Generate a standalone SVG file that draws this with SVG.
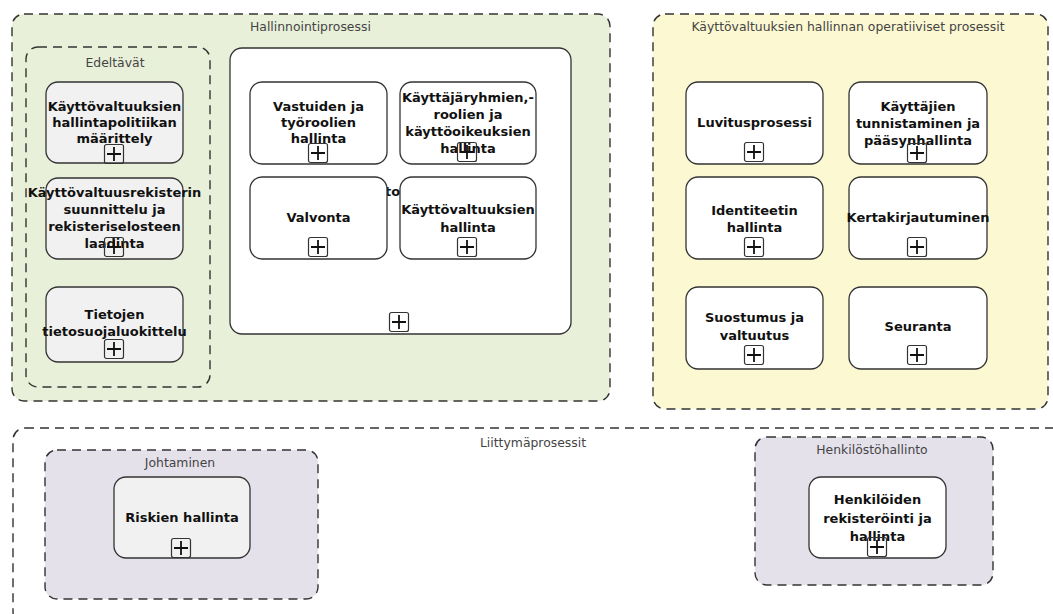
<svg xmlns="http://www.w3.org/2000/svg" width="1053" height="614" viewBox="0 0 1053 614">
  <style>
    .grp { stroke: #333; stroke-width: 1.4; stroke-dasharray: 9 6; }
    .green { fill: #e9f0d9; }
    .yellow { fill: #fcf8d2; }
    .purple { fill: #e4e1eb; }
    .plain { fill: #ffffff; }
    .node { stroke: #333; stroke-width: 1.3; fill: #ffffff; }
    .node.grey { fill: #f1f1f1; }
    .glabel { font-family: "DejaVu Sans", Verdana, sans-serif; font-size: 12.4px; fill: #444; }
    .nlabel { font-family: "DejaVu Sans", Verdana, sans-serif; font-size: 13px; font-weight: bold; fill: #111; text-anchor: middle; }
    .clabel { font-family: "DejaVu Sans", Verdana, sans-serif; font-size: 13px; font-weight: bold; fill: #111; text-anchor: start; }
    .plusbox { fill: none; stroke: #333; stroke-width: 1.2; }
    .pluscross { stroke: #111; stroke-width: 1.8; }
  </style>
  <defs>
    <!-- collapsed-subprocess marker, 20x20, origin at top-left -->
    <g id="plus">
      <rect class="plusbox" x="0.5" y="0.5" width="19" height="19" rx="2"/>
      <path class="pluscross" d="M10 3 V17 M3 10 H17"/>
    </g>
  </defs>

  <!-- background -->
  <rect x="0" y="0" width="1053" height="614" fill="#ffffff"/>

  <!-- Hallinnointiprosessi lane -->
  <g id="hallinnointiprosessi">
    <rect class="grp green" x="12" y="14" width="598" height="387" rx="12"/>
    <text class="glabel" x="250" y="31">Hallinnointiprosessi</text>
  </g>

  <!-- Edeltävät group -->
  <g id="edeltavat">
    <rect class="grp green" x="26" y="47" width="184" height="340" rx="12"/>
    <text class="glabel" x="115" y="67" text-anchor="middle">Edeltävät</text>
  </g>

  <g id="node-politiikka">
    <rect class="node grey" x="46" y="82" width="137" height="81" rx="12"/>
    <text class="nlabel" x="114.5" y="111">Käyttövaltuuksien</text>
    <text class="nlabel" x="114.5" y="127">hallintapolitiikan</text>
    <text class="nlabel" x="114.5" y="143">määrittely</text>
    <use href="#plus" x="104" y="144"/>
  </g>

  <g id="node-rekisteri">
    <rect class="node grey" x="46" y="178" width="137" height="81" rx="12"/>
    <text class="nlabel" x="114.5" y="197">Käyttövaltuusrekisterin</text>
    <text class="nlabel" x="114.5" y="214">suunnittelu ja</text>
    <text class="nlabel" x="114.5" y="231">rekisteriselosteen</text>
    <text class="nlabel" x="114.5" y="248">laadinta</text>
    <use href="#plus" x="104" y="237"/>
  </g>

  <g id="node-luokittelu">
    <rect class="node grey" x="46" y="287" width="137" height="75" rx="12"/>
    <text class="nlabel" x="114.5" y="319">Tietojen</text>
    <text class="nlabel" x="114.5" y="336">tietosuojaluokittelu</text>
    <use href="#plus" x="104" y="339"/>
  </g>

  <!-- expanded sub-process container -->
  <g id="hallinta-container">
    <rect class="node" x="230" y="48" width="341" height="286" rx="12"/>
    <text class="clabel" x="385" y="196">to</text>
    <use href="#plus" x="389" y="312"/>
  </g>

  <g id="node-vastuut">
    <rect class="node" x="250" y="82" width="137" height="82" rx="12"/>
    <text class="nlabel" x="318.5" y="111">Vastuiden ja</text>
    <text class="nlabel" x="318.5" y="127">työroolien</text>
    <text class="nlabel" x="318.5" y="143">hallinta</text>
    <use href="#plus" x="308" y="143"/>
  </g>

  <g id="node-ryhmat">
    <rect class="node" x="400" y="82" width="136" height="82" rx="12"/>
    <text class="nlabel" x="468" y="102">Käyttäjäryhmien,-</text>
    <text class="nlabel" x="468" y="119">roolien ja</text>
    <text class="nlabel" x="468" y="136">käyttöoikeuksien</text>
    <text class="nlabel" x="468" y="153">hallinta</text>
    <use href="#plus" x="457" y="142"/>
  </g>

  <g id="node-valvonta">
    <rect class="node" x="250" y="177" width="137" height="82" rx="12"/>
    <text class="nlabel" x="318.5" y="222">Valvonta</text>
    <use href="#plus" x="308" y="237"/>
  </g>

  <g id="node-kvhallinta">
    <rect class="node" x="400" y="177" width="136" height="82" rx="12"/>
    <text class="nlabel" x="468" y="214">Käyttövaltuuksien</text>
    <text class="nlabel" x="468" y="232">hallinta</text>
    <use href="#plus" x="457" y="237"/>
  </g>

  <!-- operative processes lane -->
  <g id="operatiiviset">
    <rect class="grp yellow" x="653" y="14" width="395" height="395" rx="12"/>
    <text class="glabel" x="848" y="31" text-anchor="middle">Käyttövaltuuksien hallinnan operatiiviset prosessit</text>
  </g>

  <g id="node-luvitus">
    <rect class="node" x="686" y="82" width="137" height="82" rx="12"/>
    <text class="nlabel" x="754.5" y="127">Luvitusprosessi</text>
    <use href="#plus" x="744" y="142"/>
  </g>

  <g id="node-tunnistaminen">
    <rect class="node" x="849" y="82" width="138" height="82" rx="12"/>
    <text class="nlabel" x="918" y="111">Käyttäjien</text>
    <text class="nlabel" x="918" y="128">tunnistaminen ja</text>
    <text class="nlabel" x="918" y="145">pääsynhallinta</text>
    <use href="#plus" x="907" y="143"/>
  </g>

  <g id="node-identiteetti">
    <rect class="node" x="686" y="177" width="137" height="82" rx="12"/>
    <text class="nlabel" x="754.5" y="215">Identiteetin</text>
    <text class="nlabel" x="754.5" y="232">hallinta</text>
    <use href="#plus" x="744" y="237"/>
  </g>

  <g id="node-kertakirjautuminen">
    <rect class="node" x="849" y="177" width="138" height="82" rx="12"/>
    <text class="nlabel" x="918" y="222">Kertakirjautuminen</text>
    <use href="#plus" x="907" y="237"/>
  </g>

  <g id="node-suostumus">
    <rect class="node" x="686" y="287" width="137" height="82" rx="12"/>
    <text class="nlabel" x="754.5" y="322">Suostumus ja</text>
    <text class="nlabel" x="754.5" y="340">valtuutus</text>
    <use href="#plus" x="744" y="345"/>
  </g>

  <g id="node-seuranta">
    <rect class="node" x="849" y="287" width="138" height="82" rx="12"/>
    <text class="nlabel" x="918" y="331">Seuranta</text>
    <use href="#plus" x="907" y="345"/>
  </g>

  <!-- interface processes lane (extends past the lower and right edges) -->
  <g id="liittymaprosessit">
    <rect class="grp plain" x="13" y="428" width="1060" height="196" rx="12"/>
    <text class="glabel" x="533" y="447" text-anchor="middle">Liittymäprosessit</text>
  </g>

  <g id="johtaminen">
    <rect class="grp purple" x="45" y="450" width="273" height="149" rx="12"/>
    <text class="glabel" x="180" y="467" text-anchor="middle">Johtaminen</text>
  </g>

  <g id="node-riskit">
    <rect class="node grey" x="114" y="477" width="136" height="81" rx="12"/>
    <text class="nlabel" x="182" y="522">Riskien hallinta</text>
    <use href="#plus" x="171" y="538"/>
  </g>

  <g id="henkilostohallinto">
    <rect class="grp purple" x="755" y="437" width="238" height="148" rx="12"/>
    <text class="glabel" x="872" y="454" text-anchor="middle">Henkilöstöhallinto</text>
  </g>

  <g id="node-henkilot">
    <rect class="node" x="809" y="477" width="137" height="81" rx="12"/>
    <text class="nlabel" x="877.5" y="504">Henkilöiden</text>
    <text class="nlabel" x="877.5" y="523">rekisteröinti ja</text>
    <text class="nlabel" x="877.5" y="541">hallinta</text>
    <use href="#plus" x="867" y="537"/>
  </g>

  <!-- no connectors in this diagram -->
  <g id="connectors"/>
</svg>
